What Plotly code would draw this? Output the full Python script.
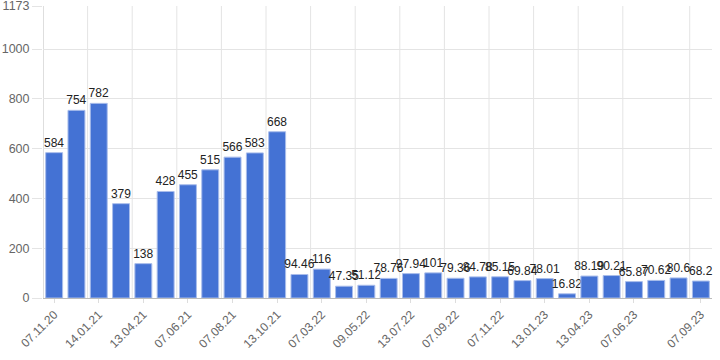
import plotly.graph_objects as go

values = [584, 754, 782, 379, 138, 428, 455, 515, 566, 583, 668, 94.46, 116, 47.35,
          51.12, 78.76, 97.94, 101, 79.36, 84.78, 85.15, 69.84, 78.01, 16.82, 88.19,
          90.21, 65.87, 70.62, 80.6, 68.2]
bar_index = list(range(len(values)))
tick_positions = [0, 2, 4, 6, 8, 10, 12, 14, 16, 18, 20, 22, 24, 26, 29]
tick_labels = ["07.11.20", "14.01.21", "13.04.21", "07.06.21", "07.08.21", "13.10.21",
               "07.03.22", "09.05.22", "13.07.22", "07.09.22", "07.11.22", "13.01.23",
               "13.04.23", "07.06.23", "07.09.23"]
y_ticks = [0, 200, 400, 600, 800, 1000, 1173]

font = "Liberation Sans, Arial, sans-serif"

fig = go.Figure()
fig.add_trace(go.Bar(
    x=bar_index, y=values,
    text=[f"{v:g}" for v in values],
    textposition="outside",
    constraintext="none",
    textfont=dict(family=font, size=12, color="#222222"),
    cliponaxis=False,
    marker=dict(color="#4472D4", line=dict(color="#A9BDEB", width=1)),
))

shapes = []
for p in tick_positions:
    shapes.append(dict(type="line", xref="x", yref="paper", x0=p - 0.5, x1=p - 0.5,
                       y0=0, y1=1, line=dict(color="#E4E4E4", width=1), layer="below"))
shapes.append(dict(type="line", xref="x", yref="paper", x0=-0.5, x1=-0.5,
                   y0=0, y1=1, line=dict(color="#CCCCCC", width=1), layer="below"))

fig.update_layout(
    width=720, height=360,
    margin=dict(l=43, r=8, t=6, b=62),
    paper_bgcolor="white", plot_bgcolor="white",
    showlegend=False,
    bargap=0.24,
    shapes=shapes,
    font=dict(family=font, size=12, color="#666666"),
)
fig.update_xaxes(
    range=[-0.5, len(values) - 0.5], automargin=False,
    tickmode="array", tickvals=tick_positions, ticktext=tick_labels,
    tickangle=-45, showgrid=False, showline=True, linecolor="#BBBBBB",
    ticks="outside", ticklen=4, tickcolor="#DDDDDD",
    tickfont=dict(family=font, size=12, color="#666666"),
    zeroline=False,
)
fig.update_yaxes(
    range=[0, 1173.2], automargin=False,
    tickmode="array", tickvals=y_ticks, ticklabeloverflow="allow",
    showgrid=True, gridcolor="#E4E4E4",
    ticks="outside", ticklen=10, tickcolor="#E4E4E4",
    tickfont=dict(family=font, size=12.5, color="#666666"),
    zeroline=False, showline=False,
)

fig.write_html("out.html", config={"displayModeBar": False},
               post_script="document.body.style.margin='0';")
